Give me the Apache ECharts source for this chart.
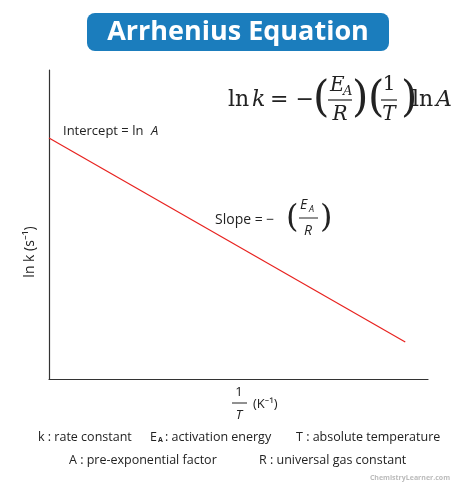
<!DOCTYPE html>
<html>
<head>
<meta charset="utf-8">
<script src="https://cdn.jsdelivr.net/npm/echarts@6/dist/echarts.min.js"></script>
<style>html,body{margin:0;padding:0;background:#fff}#main{width:474px;height:492px}</style>
</head>
<body>
<div id="main"></div>
<script>
// line endpoints (arbitrary units, axes have no ticks)
var lineX = [0, 94];
var lineY = [78, 12];

var chart = echarts.init(document.getElementById('main'));
var sans = '"Open Sans", "Noto Sans", sans-serif';
var serif = '"DejaVu Serif", "Liberation Serif", serif';

function txt(x, y, s, size, opt) {
	opt = opt || {};
	return {
		type: 'text', x: x, y: y, rotation: opt.rot || 0,
		style: {
			text: s, fill: opt.color || '#222', fontSize: size,
			fontFamily: opt.font || sans, fontStyle: opt.italic ? 'italic' : 'normal',
			fontWeight: opt.bold ? 'bold' : 'normal',
			align: opt.align || 'left', verticalAlign: 'middle'
		}
	};
}
function hline(x1, x2, y, w) {
	return { type: 'line', shape: { x1: x1, y1: y, x2: x2, y2: y }, style: { stroke: '#222', lineWidth: w || 1.2 } };
}

var graphics = [
	{ type: 'rect', shape: { x: 87, y: 13, width: 302, height: 38, r: 8 }, style: { fill: '#1b7dbd' } },
	txt(238, 32, 'Arrhenius Equation', 27, { color: '#fff', bold: true, align: 'center' }),
	// main equation
	txt(228, 100, 'ln', 22, { font: serif }),
	txt(252, 100, 'k', 22, { font: serif, italic: true }),
	txt(270, 100, '= \u2212', 22, { font: serif }),
	txt(313, 100, '(', 42, { font: serif }),
	txt(330, 86, 'E', 20, { font: serif, italic: true }),
	txt(343, 92, 'A', 13, { font: serif, italic: true }),
	hline(328, 352, 100),
	txt(340, 115, 'R', 20, { font: serif, italic: true, align: 'center' }),
	txt(352, 100, ')', 42, { font: serif }),
	txt(368, 100, '(', 42, { font: serif }),
	txt(389, 85, '1', 20, { font: serif, align: 'center' }),
	hline(381, 397, 100),
	txt(389, 115, 'T', 20, { font: serif, italic: true, align: 'center' }),
	txt(401, 100, ')', 42, { font: serif }),
	txt(412, 100, 'ln', 22, { font: serif }),
	txt(436, 100, 'A', 22, { font: serif, italic: true }),
	// intercept
	txt(63, 131, 'Intercept = ln', 13),
	txt(151, 131, 'A', 13, { italic: true }),
	// slope
	txt(215, 220, 'Slope = \u2212', 14),
	txt(286, 219, '(', 32, { font: serif }),
	txt(300, 205, 'E', 14, { italic: true }),
	txt(309, 209, 'A', 9, { italic: true }),
	hline(299, 318, 218, 1),
	txt(308, 231, 'R', 14, { italic: true, align: 'center' }),
	txt(320, 219, ')', 32, { font: serif }),
	// y axis name
	txt(30, 252, 'ln k (s\u207B\u00B9)', 14, { rot: Math.PI / 2, align: 'center' }),
	// x axis name
	txt(239, 392, '1', 13, { align: 'center' }),
	hline(232, 247, 403, 1),
	txt(239, 415, 'T', 13, { italic: true, align: 'center' }),
	txt(253, 404, '(K\u207B\u00B9)', 13),
	// legend
	txt(38, 437, 'k : rate constant', 12.5),
	txt(150, 437, 'E', 12.5),
	txt(158, 440, 'A', 7, { bold: true }),
	txt(165, 437, ': activation energy', 12.5),
	txt(296, 437, 'T : absolute temperature', 12.5),
	txt(69, 460, 'A : pre-exponential factor', 12.5),
	txt(259, 460, 'R : universal gas constant', 12.5),
	txt(450, 478, 'ChemistryLearner.com', 7, { color: '#bbb', bold: true, align: 'right' })
];

var option = {
	animation: false,
	grid: { left: 49, right: 46, top: 70, bottom: 113 },
	xAxis: {
		type: 'value', min: 0, max: 100,
		axisLine: { show: true, lineStyle: { color: '#333', width: 1.2 } },
		axisTick: { show: false }, axisLabel: { show: false }, splitLine: { show: false }
	},
	yAxis: {
		type: 'value', min: 0, max: 100,
		axisLine: { show: true, lineStyle: { color: '#333', width: 1.2 } },
		axisTick: { show: false }, axisLabel: { show: false }, splitLine: { show: false }
	},
	series: [{
		type: 'line',
		data: lineX.map(function(x, i) { return [x, lineY[i]]; }),
		symbol: 'none',
		lineStyle: { color: '#e8221f', width: 1.2 }
	}],
	graphic: graphics
};
chart.setOption(option);
</script>
</body>
</html>
